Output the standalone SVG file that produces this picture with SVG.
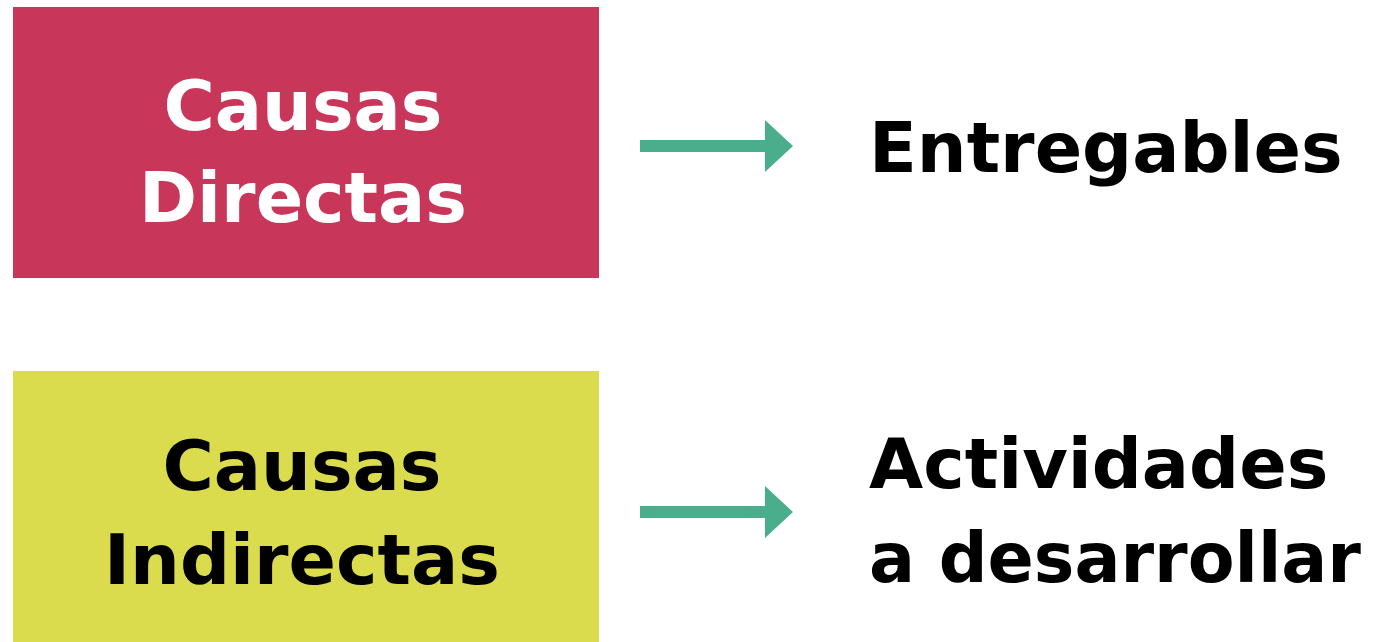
<svg xmlns="http://www.w3.org/2000/svg" width="1374" height="642" viewBox="0 0 1374 642">
<style>
.t{font-family:"DejaVu Sans","Liberation Sans",sans-serif;font-weight:bold;font-size:70px}
.w{fill:#ffffff}
.k{fill:#000000}
.arr{fill:#4aae8c}
</style>
<rect width="1374" height="642" fill="#ffffff"/>
<g id="node-causas-directas">
<rect x="13" y="7" width="586" height="271" fill="#c8375a"/>
<text class="t w" x="303" y="130" text-anchor="middle">Causas</text>
<text class="t w" x="303" y="222" text-anchor="middle">Directas</text>
</g>
<g id="node-causas-indirectas">
<rect x="13" y="371" width="586" height="280" fill="#dadc4e"/>
<text class="t k" x="302" y="490" text-anchor="middle">Causas</text>
<text class="t k" x="302" y="584" text-anchor="middle">Indirectas</text>
</g>
<g id="node-entregables">
<text class="t k" x="869" y="172">Entregables</text>
</g>
<g id="node-actividades">
<text class="t k" x="869" y="488">Actividades</text>
<text class="t k" x="869" y="582" textLength="492" lengthAdjust="spacingAndGlyphs">a desarrollar</text>
</g>
<g id="connectors">
<polygon class="arr" points="640,140 765,140 765,120 793,146 765,172 765,152 640,152"/>
<polygon class="arr" points="640,506 765,506 765,486 793,512 765,538 765,518 640,518"/>
</g>
</svg>
